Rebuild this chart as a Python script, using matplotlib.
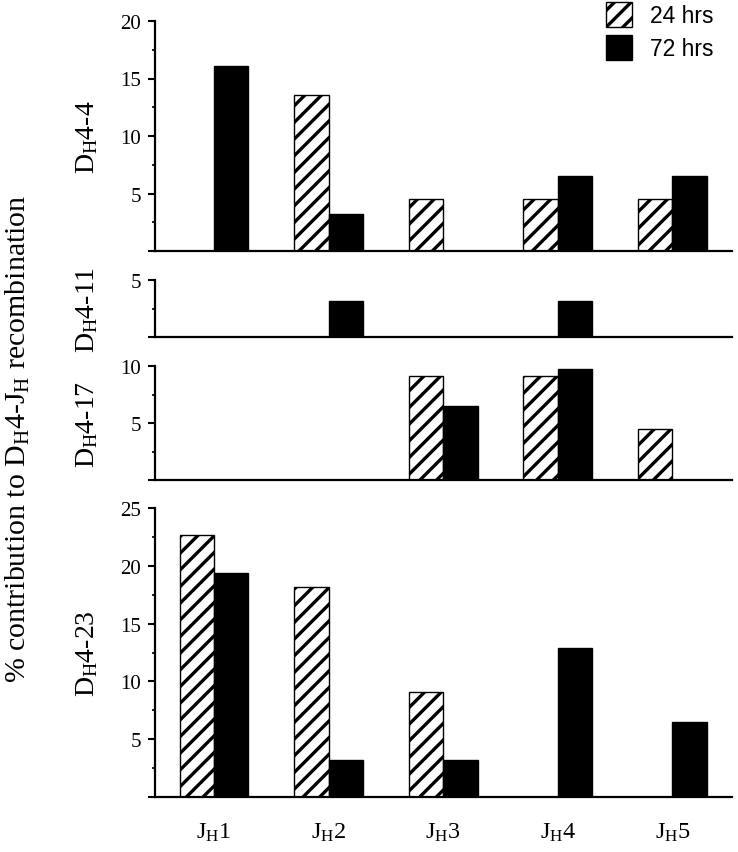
import numpy as np
import matplotlib
matplotlib.use("Agg")
import matplotlib.pyplot as plt
from matplotlib.patches import Patch

plt.rcParams['font.family'] = ['Liberation Serif', 'DejaVu Serif']
plt.rcParams['mathtext.fontset'] = 'custom'
plt.rcParams['mathtext.rm'] = 'Liberation Serif'
plt.rcParams['mathtext.it'] = 'Liberation Serif:italic'
plt.rcParams['mathtext.default'] = 'regular'
plt.rcParams['hatch.linewidth'] = 2.4

# data (% contribution)
jh = [r'J$_H$1', r'J$_H$2', r'J$_H$3', r'J$_H$4', r'J$_H$5']
dh = [r'D$_H$4-4', r'D$_H$4-11', r'D$_H$4-17', r'D$_H$4-23']
h24_4_4 = [0, 13.6, 4.5, 4.5, 4.5]
h72_4_4 = [16.1, 3.2, 0, 6.5, 6.5]
h24_4_11 = [0, 0, 0, 0, 0]
h72_4_11 = [0, 3.2, 0, 3.2, 0]
h24_4_17 = [0, 0, 9.1, 9.1, 4.5]
h72_4_17 = [0, 0, 6.5, 9.7, 0]
h24_4_23 = [22.7, 18.2, 9.1, 0, 0]
h72_4_23 = [19.4, 3.2, 3.2, 12.9, 6.5]
ymax = [20, 5, 10, 25]

W, H = 738, 853
fig = plt.figure(figsize=(W/100, H/100), dpi=100)

# axes boxes in pixels: top, bottom
boxes = [(22, 252), (281, 338), (367, 481), (509, 798)]
left, right = 155, 732

series = [(h24_4_4, h72_4_4), (h24_4_11, h72_4_11),
          (h24_4_17, h72_4_17), (h24_4_23, h72_4_23)]

x = np.arange(len(jh))
w = 0.3
for k in range(4):
    top, bot = boxes[k]
    ax = fig.add_axes([left/W, 1-bot/H, (right-left)/W, (bot-top)/H])
    a, b = series[k]
    a = np.array(a, dtype=float)
    b = np.array(b, dtype=float)
    m = a > 0
    ax.bar(x[m]-w/2, a[m], w, color='white', edgecolor='black', hatch='//', linewidth=1)
    m = b > 0
    ax.bar(x[m]+w/2, b[m], w, color='black', edgecolor='black', linewidth=1)
    ax.set_xlim(-0.515, 4.52)
    ax.set_ylim(0, ymax[k])
    for s in ['top', 'right']:
        ax.spines[s].set_visible(False)
    ax.spines['left'].set_linewidth(1.6)
    ax.spines['bottom'].set_linewidth(1.6)
    yt = np.arange(0, ymax[k]+1, 5)
    ax.set_yticks(yt)
    ax.set_yticklabels([''] + [str(v) for v in yt[1:]])
    ax.set_yticks(np.arange(2.5, ymax[k], 5), minor=True)
    ax.tick_params(axis='y', which='major', direction='out', length=5, width=1.5, labelsize=15, pad=5)
    ax.tick_params(axis='y', which='minor', direction='out', length=2.5, width=1.2)
    ax.set_xticks(x)
    if k == 3:
        ax.set_xticklabels(jh, fontsize=17.5)
        ax.tick_params(axis='x', length=0, pad=17)
    else:
        ax.set_xticklabels([])
        ax.tick_params(axis='x', length=0)
    ax.text(-0.118, 0.5, dh[k], transform=ax.transAxes, rotation=90,
            ha='center', va='center', fontsize=20)

fig.text(18/W, 1-439/H, r'% contribution to D$_H$4-J$_H$ recombination',
         rotation=90, ha='center', va='center', fontsize=21.5)

handles = [Patch(facecolor='white', edgecolor='black', hatch='//', linewidth=1),
           Patch(facecolor='black', edgecolor='black')]
fig.legend(handles, ['24 hrs', '72 hrs'], loc='upper left',
           bbox_to_anchor=(606/W, 1-3/H), frameon=False,
           prop={'family': 'Liberation Sans', 'size': 16.5},
           handlelength=1.13, handleheight=1.3, labelspacing=0.35,
           handletextpad=0.8, borderpad=0, borderaxespad=0)

fig.savefig('out.png', dpi=100)
